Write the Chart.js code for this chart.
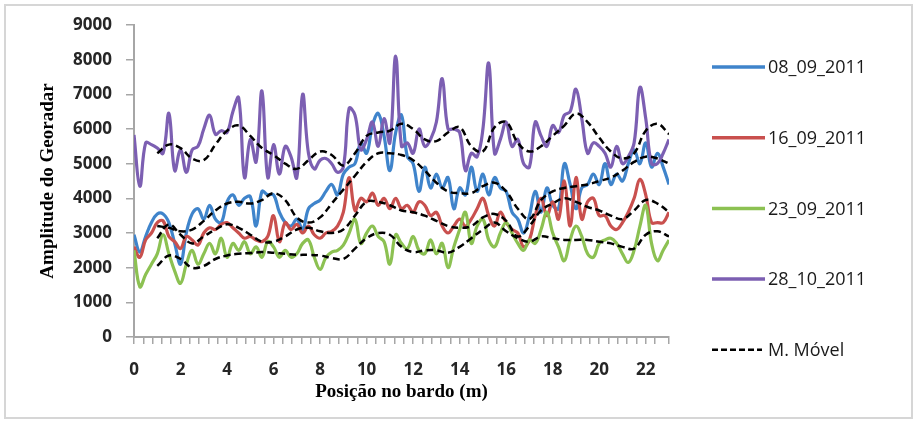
<!DOCTYPE html>
<html>
<head>
<meta charset="utf-8">
<script src="https://cdn.jsdelivr.net/npm/chart.js@4.4.1/dist/chart.umd.min.js"></script>
<style>
  html, body { margin: 0; padding: 0; background: #fff; }
  #wrap { width: 917px; height: 423px; }
</style>
</head>
<body>
<div id="wrap"><canvas id="gpr" width="917" height="423"></canvas></div>
<script>
// ── Data ────────────────────────────────────────────────────
// positions along the bank (m), one reading every 0.25 m
const positions = [
  0, 0.25, 0.5, 0.75, 1, 1.25, 1.5, 1.75, 2, 2.25, 2.5, 2.75,
  3, 3.25, 3.5, 3.75, 4, 4.25, 4.5, 4.75, 5, 5.25, 5.5, 5.75,
  6, 6.25, 6.5, 6.75, 7, 7.25, 7.5, 7.75, 8, 8.25, 8.5, 8.75,
  9, 9.25, 9.5, 9.75, 10, 10.25, 10.5, 10.75, 11, 11.25, 11.5, 11.75,
  12, 12.25, 12.5, 12.75, 13, 13.25, 13.5, 13.75, 14, 14.25, 14.5, 14.75,
  15, 15.25, 15.5, 15.75, 16, 16.25, 16.5, 16.75, 17, 17.25, 17.5, 17.75,
  18, 18.25, 18.5, 18.75, 19, 19.25, 19.5, 19.75, 20, 20.25, 20.5, 20.75,
  21, 21.25, 21.5, 21.75, 22, 22.25, 22.5, 22.75, 23
];

const amp_08_09 = [
  2950, 2450, 2900, 3300, 3550, 3550, 3300, 2700, 2100, 3000, 3550, 3700,
  3400, 3800, 3400, 3300, 3900, 4100, 3800, 4000, 4050, 3200, 4200, 4100,
  4100, 3600, 3300, 3200, 3400, 3100, 3700, 3850, 3950, 4200, 4400, 4100,
  4700, 4900, 5000, 5600, 5300, 6100, 6450, 5800, 4800, 5900, 6400, 5200,
  5000, 4200, 4900, 4300, 4700, 4300, 4600, 3700, 4300, 4100, 4900, 4200,
  4700, 4100, 4600, 4300, 4200, 3600, 3400, 3000, 3500, 4200, 3600, 4300,
  3800, 3700, 5000, 4400, 3700, 4300, 4400, 4700, 4400, 5000, 4400, 4700,
  4500, 5000, 5400, 5000, 5600, 4900, 5300, 4900, 4400
];

const amp_16_09 = [
  2600, 2300, 2800, 3000, 3300, 3350, 2900, 2750, 2550, 2900, 2800, 2650,
  3000, 3150, 3100, 3250, 3300, 3150, 3000, 2850, 2900, 2800, 2750, 2900,
  3500, 2750, 3300, 3100, 3250, 3000, 3200, 2950, 2850, 3000, 3050, 3200,
  3600, 4600, 3650, 4000, 3900, 4150, 3800, 4000, 3700, 4000, 3700, 3800,
  3600, 3900, 3800, 3500, 3600, 3200, 3000, 3200, 3400, 3200, 3400, 3700,
  4000, 3500, 3200, 3600, 3300, 3100, 3000, 2600, 2800, 3500, 4000, 3500,
  3900, 3400, 4500, 3200, 4600, 3400, 3900, 4000, 3500, 3500, 3200, 3100,
  3300, 3600, 4000, 4550, 4100, 3300, 3300, 3300, 3600
];

const amp_23_09 = [
  2500, 1450, 1800, 2100, 2400, 2950, 2400, 1900, 1550, 2100, 2500, 2100,
  2400, 2700, 2400, 2850, 2300, 2700, 2500, 2750, 2400, 2600, 2300, 2750,
  2600, 2300, 2500, 2300, 2400, 2700, 2800, 2300, 1950, 2300, 2450, 2500,
  2650, 3000, 3400, 2700, 3000, 3200, 2900, 2750, 2100, 2950, 2700, 2550,
  2900, 2500, 2400, 2800, 2400, 2700, 2000, 2600, 3100, 3600, 2700, 3200,
  3400, 2800, 2600, 3000, 3300, 3000, 2700, 2500, 2800, 2700, 3100, 3600,
  3000, 2600, 2200, 2800, 3200, 2900, 2400, 2300, 2700, 2800, 2850, 2700,
  2400, 2150, 2500, 3200, 3800, 2700, 2200, 2500, 2800
];

const amp_28_10 = [
  5830, 4350, 5600, 5550, 5450, 5300, 6450, 4800, 5400, 4750, 5400, 5500,
  6000, 6400, 5850, 5950, 5900, 6500, 6900, 4600, 5700, 5050, 7100, 4600,
  5550, 4700, 5500, 5200, 4600, 7000, 5300, 4850, 5100, 5150, 5000, 4750,
  4900, 6600, 6400, 5400, 5700, 6200, 5500, 6300, 5600, 8100, 5500, 5600,
  5300, 6000, 5500, 5700, 6200, 7450, 6000, 6000, 5900, 4800, 5300, 5200,
  6000, 7900, 5300, 5700, 6200, 5500, 5700, 5000, 4900, 6200, 5800, 5500,
  6100, 5900, 6400, 6500, 7150, 6300, 5300, 5600, 5500, 5300, 4900, 5500,
  5000, 5200, 5600, 7200, 6300, 5000, 5000, 5300, 5700
];

// moving averages (dashed), read every 0.5 m from 1 m on
const maPositions = [
  1, 1.5, 2, 2.5, 3, 3.5, 4, 4.5, 5, 5.5, 6, 6.5, 7, 7.5, 8, 8.5,
  9, 9.5, 10, 10.5, 11, 11.5, 12, 12.5, 13, 13.5, 14, 14.5, 15, 15.5,
  16, 16.5, 17, 17.5, 18, 18.5, 19, 19.5, 20, 20.5, 21, 21.5, 22, 22.5, 23
];
const ma_08_09 = [
  3200, 3150, 3050, 3100, 3350, 3650, 3850, 3900, 3850, 3950, 4150, 3950,
  3450, 3300, 3450, 3850, 4250, 4650, 5050, 5300, 5300, 5250, 5100, 4800,
  4450, 4200, 4150, 4150, 4350, 4450, 4200, 3700, 3400, 3950, 4200, 4300,
  4350, 4400, 4500, 4600, 4800, 5050, 5200, 5150, 5000
];
const ma_16_09 = [
  2850, 3250, 2950, 2700, 2900, 3100, 3250, 3150, 2950, 2750, 2750, 2900,
  3100, 3150, 3050, 3000, 3100, 3500, 3900, 3900, 3800, 3650, 3600, 3500,
  3350, 3200, 3150, 3200, 3450, 3550, 3350, 2900, 3200, 3650, 3850, 4000,
  3900, 3750, 3650, 3500, 3400, 3650, 3950, 3850, 3600
];
const ma_23_09 = [
  2050, 2350, 2250, 2000, 2050, 2250, 2350, 2400, 2420, 2450, 2430, 2400,
  2370, 2370, 2350, 2280, 2250, 2550, 2850, 3000, 2950, 2600, 2450, 2500,
  2500, 2430, 2600, 2850, 3100, 3300, 3050, 2850, 2750, 2900, 2850, 2800,
  2800, 2800, 2750, 2700, 2600, 2550, 2950, 3050, 2900
];
const ma_28_10 = [
  5300, 5550, 5450, 5150, 5100, 5550, 5950, 6100, 5800, 5450, 5250, 5000,
  4850, 5100, 5350, 5250, 4950, 5300, 5800, 5900, 5950, 6150, 6000, 5700,
  5650, 5900, 6050, 5500, 5350, 6050, 6200, 5600, 5350, 5500, 5800, 6100,
  6450, 6200, 5750, 5350, 5150, 5300, 5950, 6150, 5850
];

const seriesNames  = ['08_09_2011', '16_09_2011', '23_09_2011', '28_10_2011'];
const seriesColors = ['#3f84cb', '#c9504e', '#8cc152', '#7c5fb2'];
const maName       = 'M. Móvel';
const xTickLabels  = [0, 2, 4, 6, 8, 10, 12, 14, 16, 18, 20, 22];

// ── Helpers ────────────────────────────────────────────────
const pts = (xs, ys) => xs.map((x, i) => ({ x: x, y: ys[i] }));

const seriesValues = [amp_08_09, amp_16_09, amp_23_09, amp_28_10];
const maValues     = [ma_08_09, ma_16_09, ma_23_09, ma_28_10];

const datasets = [];
maValues.forEach(vals => {
  datasets.push({
    label: maName, data: pts(maPositions, vals),
    borderColor: '#000', borderWidth: 2.5, borderDash: [7, 4],
    pointRadius: 0, tension: 0.4, fill: false, order: 0
  });
});
seriesValues.forEach((vals, i) => {
  datasets.push({
    label: seriesNames[i], data: pts(positions, vals),
    borderColor: seriesColors[i], borderWidth: 3.2,
    pointRadius: 0, tension: 0.4, fill: false, order: 4 - i
  });
});

// outer frame of the figure
const framePlugin = {
  id: 'frame',
  beforeDraw(chart) {
    const ctx = chart.ctx;
    ctx.save();
    ctx.fillStyle = '#fff';
    ctx.fillRect(0, 0, chart.width, chart.height);
    ctx.strokeStyle = '#d6d6d6';
    ctx.lineWidth = 2;
    ctx.strokeRect(5, 5, chart.width - 10, chart.height - 10);
    ctx.restore();
  }
};

// legend on the right, spaced like the original
const sideLegend = {
  id: 'sideLegend',
  afterDraw(chart) {
    const ctx = chart.ctx;
    const items = seriesNames.map((n, i) => ({ text: n, color: seriesColors[i], dash: [] }))
      .concat([{ text: maName, color: '#000', dash: [6, 3] }]);
    ctx.save();
    ctx.font = '18px "Open Sans"';
    ctx.textBaseline = 'middle';
    items.forEach((it, i) => {
      const y = 67 + i * 70.7;
      ctx.beginPath();
      ctx.setLineDash(it.dash);
      ctx.strokeStyle = it.color;
      ctx.lineWidth = it.dash.length ? 2.5 : 3.5;
      ctx.moveTo(712, y);
      ctx.lineTo(it.dash.length ? 762 : 765, y);
      ctx.stroke();
      ctx.setLineDash([]);
      ctx.fillStyle = '#1a1a1a';
      ctx.fillText(it.text, 768, y + 1);
    });
    ctx.restore();
  }
};

const tickFont = { family: 'Open Sans', size: 17, weight: 'bold' };
const titleFont = { family: 'Liberation Serif', size: 19, weight: 'bold' };

new Chart(document.getElementById('gpr').getContext('2d'), {
  type: 'line',
  data: { datasets: datasets },
  options: {
    responsive: false, animation: false,
    layout: { padding: { left: 20, right: 248, top: 25, bottom: 20 } },
    plugins: { legend: { display: false }, tooltip: { enabled: false } },
    scales: {
      x: {
        type: 'linear', min: 0, max: 23,
        afterFit: s => { s.height = 66; },
        ticks: {
          stepSize: 0.4, autoSkip: false, maxRotation: 0, padding: 16,
          font: tickFont, color: '#262626',
          callback: v => {
            const hit = xTickLabels.find(t => Math.abs(t - v) < 1e-6);
            return hit === undefined ? '' : String(hit);
          }
        },
        grid: { drawOnChartArea: false, tickLength: 7, color: '#a6a6a6', lineWidth: 1.5 },
        border: { color: '#a6a6a6', width: 2 },
        title: { display: true, text: 'Posição no bardo (m)', font: titleFont, color: '#000', padding: { top: 0, bottom: 0 } }
      },
      y: {
        min: 0, max: 9000,
        afterFit: s => { s.width = 114; },
        ticks: { stepSize: 1000, padding: 14, font: tickFont, color: '#262626', callback: v => String(v) },
        grid: { drawOnChartArea: false, tickLength: 8, color: '#a6a6a6', lineWidth: 1.5 },
        border: { color: '#a6a6a6', width: 2 },
        title: { display: true, text: 'Amplitude do Georadar', font: titleFont, color: '#000', padding: { top: 17, bottom: 0 } }
      }
    }
  },
  plugins: [framePlugin, sideLegend]
});
</script>
</body>
</html>
